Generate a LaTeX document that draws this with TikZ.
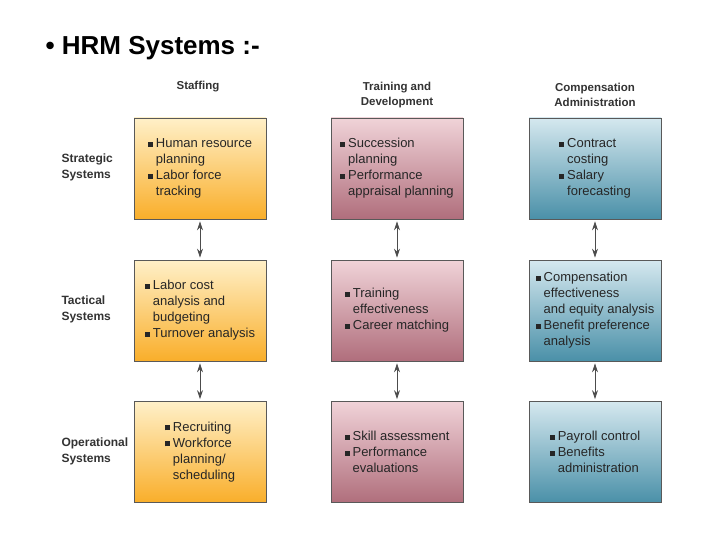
\documentclass[tikz,border=0pt]{standalone}
\usepackage{fontspec}
\setmainfont{Liberation Sans}
\usetikzlibrary{arrows.meta}
\definecolor{bltop}{HTML}{D5E8EF}
\definecolor{blbot}{HTML}{4A90A8}
\definecolor{pktop}{HTML}{F0D3D8}
\definecolor{pkbot}{HTML}{B06E7C}
\definecolor{yltop}{HTML}{FFF0C8}
\definecolor{ylbot}{HTML}{F9AE2A}
\newcommand\bx{\rule[1pt]{5pt}{5pt}\hspace{3pt}}
\newcommand\ind{\hphantom{\bx}}
\tikzset{
  box/.style={draw=black!65, line width=0.8pt, minimum width=132pt, minimum height=101pt},
  yel/.style={box, top color=yltop, bottom color=ylbot},
  pnk/.style={box, top color=pktop, bottom color=pkbot},
  blu/.style={box, top color=bltop, bottom color=blbot},
  txt/.style={align=left, font=\fontsize{13pt}{16pt}\selectfont, text=black!85},
  hdr/.style={align=center, font=\bfseries\fontsize{11.5pt}{15pt}\selectfont, text=black!80},
  lbl/.style={align=left, anchor=west, font=\bfseries\fontsize{12pt}{16pt}\selectfont, text=black!80},
  link/.style={{Stealth[length=9pt,width=6pt]}-{Stealth[length=9pt,width=6pt]}, draw=black!70, line width=0.8pt}
}
\begin{document}
\begin{tikzpicture}[x=1pt,y=-1pt]
\useasboundingbox[fill=white] (0,0) rectangle (720,540);
\node[anchor=west, font=\bfseries\fontsize{26pt}{30pt}\selectfont] (title) at (42,48) {\textbullet\ HRM Systems :-};
% headers
\node[hdr] (h1) at (198,87) {Staffing};
\node[hdr] (h2) at (397,95) {Training and\\Development};
\node[hdr] (h3) at (595,95) {Compensation\\Administration};
% row labels
\node[lbl] (r1) at (58,167) {Strategic\\Systems};
\node[lbl] (r2) at (58,309) {Tactical\\Systems};
\node[lbl] (r3) at (58,451) {Operational\\Systems};
% boxes
\node[yel] (a1) at (200,168.5) {};
\node[pnk] (b1) at (397,168.5) {};
\node[blu] (c1) at (595,168.5) {};
\node[yel] (a2) at (200,310.5) {};
\node[pnk] (b2) at (397,310.5) {};
\node[blu] (c2) at (595,310.5) {};
\node[yel] (a3) at (200,452) {};
\node[pnk] (b3) at (397,452) {};
\node[blu] (c3) at (595,452) {};
% texts
\node[txt] at (a1) {\bx Human resource\\\ind planning\\\bx Labor force\\\ind tracking};
\node[txt] at (b1) {\bx Succession\\\ind planning\\\bx Performance\\\ind appraisal planning};
\node[txt] at (c1) {\bx Contract\\\ind costing\\\bx Salary\\\ind forecasting};
\node[txt] at (a2) {\bx Labor cost\\\ind analysis and\\\ind budgeting\\\bx Turnover analysis};
\node[txt] at (b2) {\bx Training\\\ind effectiveness\\\bx Career matching};
\node[txt] at (c2) {\bx Compensation\\\ind effectiveness\\\ind and equity analysis\\\bx Benefit preference\\\ind analysis};
\node[txt] at (a3) {\bx Recruiting\\\bx Workforce\\\ind planning/\\\ind scheduling};
\node[txt] at (b3) {\bx Skill assessment\\\bx Performance\\\ind evaluations};
\node[txt] at (c3) {\bx Payroll control\\\bx Benefits\\\ind administration};
% arrows
\foreach \u/\v in {a1/a2,a2/a3,b1/b2,b2/b3,c1/c2,c2/c3}
  \draw[link] ([yshift=-2pt]\u.south) -- ([yshift=2pt]\v.north);
\end{tikzpicture}
\end{document}
